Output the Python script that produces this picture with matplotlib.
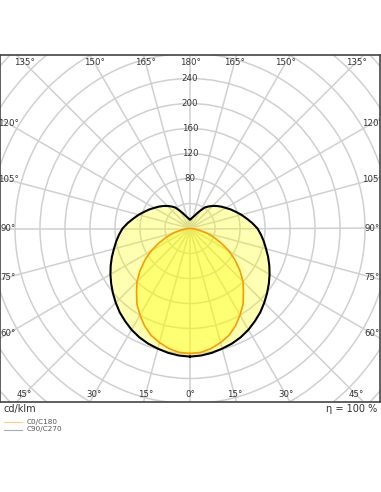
import numpy as np
import matplotlib
matplotlib.use('Agg')
import matplotlib.pyplot as plt
from matplotlib.patches import Circle

# gamma angles (deg, 0 = straight down) and intensities in cd/klm
gamma = [0, 5, 10, 15, 20, 25, 30, 35, 40, 45, 50, 55, 60, 65, 70, 75, 80, 85, 90,
         95, 100, 105, 110, 115, 120, 125, 130, 135, 140, 145, 150, 155, 160, 165,
         170, 175, 180]
c0_c180 = [200, 199, 195, 189, 182, 172, 160, 148, 133, 120, 104, 88, 72, 55, 40, 27,
           15, 6, 0, 0, 0, 0, 0, 0, 0, 0, 0, 0, 0, 0, 0, 0, 0, 0, 0, 0, 0]
c90_c270 = [205, 204, 202, 199, 196, 192, 187, 181, 175, 168, 161, 154, 147, 140, 133,
            126, 120, 114, 108, 100, 92, 85, 78, 72, 66, 61, 56, 51, 46, 41, 33, 27,
            22, 19, 17, 15, 14]
ring_labels = [80, 120, 160, 200, 240]
eta = '100 %'


def to_xy(g, r):
    # mirror the half-plane so the curve closes on the other side
    g = np.asarray(g, dtype=float)
    r = np.asarray(r, dtype=float)
    th = np.concatenate([g, 360 - g[::-1][1:]])
    rr = np.concatenate([r, r[::-1][1:]])
    t = np.radians(th)
    return -rr * np.sin(t), -rr * np.cos(t)


fig = plt.figure(figsize=(3.81, 4.92), dpi=100)
ax = fig.add_axes([0, 90 / 492, 380 / 381, 347 / 492])
ax.set_xlim(-304, 304)
ax.set_ylim(-277.6, 277.6)
ax.set_xticks([])
ax.set_yticks([])
for s in ax.spines.values():
    s.set_color('#444444')
    s.set_linewidth(1.2)

grid = '#d0d0d0'
for r in range(40, 480, 40):
    ax.add_patch(Circle((0, 0), r, fill=False, ec=grid, lw=1.1, zorder=1))
for a in range(0, 360, 15):
    t = np.radians(a)
    ax.plot([0, -500 * np.sin(t)], [0, -500 * np.cos(t)], color=grid, lw=1.1, zorder=1)

# angle labels along an inset rectangle
for a in range(0, 360, 15):
    t = np.radians(a)
    dx, dy = -np.sin(t), -np.cos(t)
    k = min(291.2 / abs(dx) if abs(dx) > 1e-9 else 1e9,
            265.6 / abs(dy) if abs(dy) > 1e-9 else 1e9)
    lab = a if a <= 180 else 360 - a
    ax.text(k * dx, k * dy, f'{lab}°', ha='center', va='center', fontsize=6.2,
            color='#333333', clip_on=True, zorder=3)

for r in ring_labels:
    ax.text(0, r, str(r), ha='center', va='center', fontsize=6.2, color='#333333', zorder=3)

x1, y1 = to_xy(gamma, c90_c270)
x0, y0 = to_xy(gamma, c0_c180)
ax.fill(x1, y1, color='yellow', alpha=0.3, lw=0, zorder=2)
ax.fill(x0, y0, color='yellow', alpha=0.35, lw=0, zorder=2)
ax.plot(x1, y1, color='black', lw=1.5, zorder=4)
ax.plot(x0, y0, color='#ff9900', lw=1.2, zorder=4)

fig.text(4 / 381, 1 - 409 / 492, 'cd/klm', ha='left', va='center', fontsize=7, color='#333333')
fig.text(377 / 381, 1 - 409 / 492, f'η = {eta}', ha='right', va='center', fontsize=7,
         color='#333333')

fig.add_artist(plt.Line2D([4 / 381, 22 / 381], [1 - 422 / 492] * 2, color='#ffcc80', lw=0.8))
fig.add_artist(plt.Line2D([4 / 381, 22 / 381], [1 - 429.5 / 492] * 2, color='#aaaaaa', lw=0.8))
fig.text(27 / 381, 1 - 422 / 492, 'C0/C180', ha='left', va='center', fontsize=5.2, color='#555555')
fig.text(27 / 381, 1 - 429.5 / 492, 'C90/C270', ha='left', va='center', fontsize=5.2, color='#555555')

fig.savefig('out.png', dpi=100)
